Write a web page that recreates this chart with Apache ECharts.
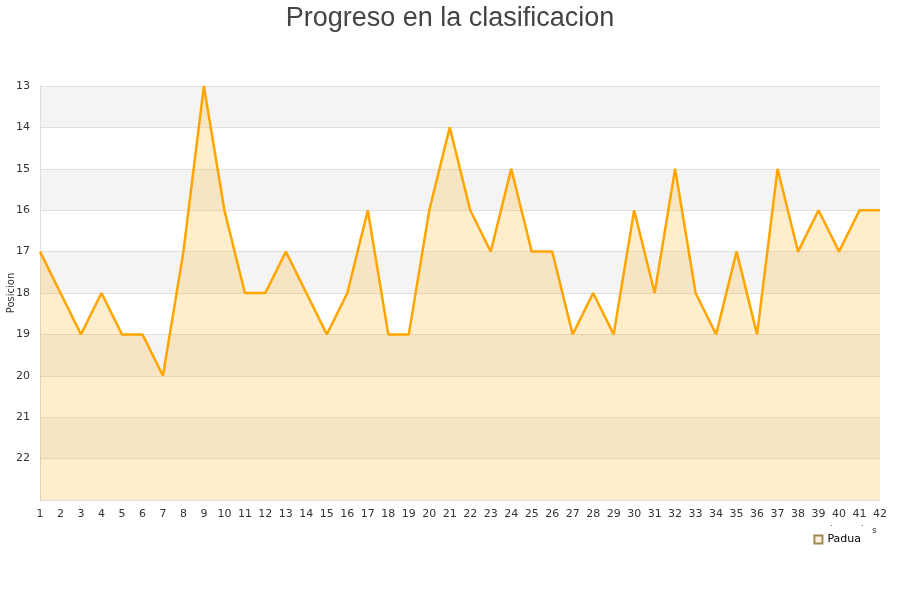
<!DOCTYPE html>
<html>
<head>
<meta charset="utf-8">
<script src="https://cdn.jsdelivr.net/npm/echarts@6/dist/echarts.min.js"></script>
<style>
  html, body { margin: 0; padding: 0; background: #fff; }
  #chart { width: 900px; height: 600px; }
</style>
</head>
<body>
<div id="chart"></div>
<script>
var jornadas = [];
for (var i = 1; i <= 42; i++) jornadas.push(String(i));

var posiciones = [17, 18, 19, 18, 19, 19, 20, 17, 13, 16,
                  18, 18, 17, 18, 19, 18, 16, 19, 19, 16,
                  14, 16, 17, 15, 17, 17, 19, 18, 19, 16,
                  18, 15, 18, 19, 17, 19, 15, 17, 16, 17,
                  16, 16];

var equipo = 'Padua';
var ejeY = 'Posicion';

var myChart = echarts.init(document.getElementById('chart'));
var option = {
  animation: false,
  title: {
    text: 'Progreso en la clasificacion',
    left: 'center',
    top: 0,
    textStyle: { fontFamily: 'Liberation Sans', fontSize: 27, fontWeight: 'normal', color: '#444' }
  },
  legend: {
    data: [equipo],
    right: 34,
    top: 529,
    icon: 'rect',
    itemWidth: 8,
    itemHeight: 8,
    textStyle: { fontFamily: 'DejaVu Sans', fontSize: 11, color: '#000' }
  },
  grid: { left: 40, right: 20, top: 86, bottom: 100, containLabel: false, outerBoundsMode: 'none' },
  xAxis: {
    type: 'category',
    data: jornadas,
    boundaryGap: false,
    axisLine: { lineStyle: { color: '#ddd' } },
    axisTick: { show: false },
    axisLabel: { interval: 0, fontFamily: 'DejaVu Sans', fontSize: 11, color: '#333', margin: 9 },
    splitLine: { show: false }
  },
  yAxis: {
    type: 'value',
    inverse: true,
    min: 13,
    max: 23,
    interval: 1,
    axisLine: { show: true, lineStyle: { color: '#ddd' } },
    axisTick: { show: false },
    axisLabel: {
      fontFamily: 'DejaVu Sans', fontSize: 11, color: '#333', margin: 10,
      formatter: function (v) { return v === 23 ? '' : v; }
    },
    splitLine: { lineStyle: { color: '#e0e0e0' } },
    splitArea: { show: true, areaStyle: { color: ['#f4f4f4', '#ffffff'] } }
  },
  graphic: [
    {
      type: 'text', x: 11, y: 293, rotation: Math.PI / 2,
      style: { text: ejeY, font: '10px DejaVu Sans', fill: '#333', align: 'center', verticalAlign: 'middle' }
    },
    { type: 'text', left: 872, top: 526, style: { text: 's', font: '9px DejaVu Sans', fill: '#333' } },
    { type: 'text', left: 830, top: 520, style: { text: '.', font: '8px DejaVu Sans', fill: '#333' } },
    { type: 'text', left: 861, top: 520, style: { text: '.', font: '8px DejaVu Sans', fill: '#333' } }
  ],
  series: [{
    name: equipo,
    type: 'line',
    data: posiciones,
    symbol: 'none',
    lineStyle: { color: '#ffa500', width: 2.5 },
    itemStyle: { color: '#fff3dc', borderColor: '#a08850', borderWidth: 1 },
    areaStyle: { color: '#ffa500', opacity: 0.2, origin: 'end' }
  }]
};
myChart.setOption(option);
</script>
</body>
</html>
